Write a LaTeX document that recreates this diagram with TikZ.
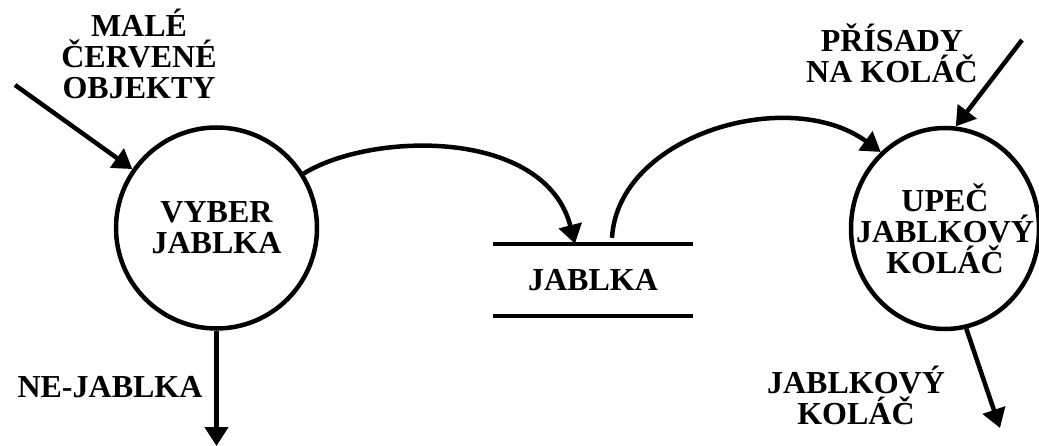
\documentclass[tikz,border=0pt]{standalone}
\usepackage{fontspec}
\setmainfont{Liberation Serif}
\usetikzlibrary{shapes.geometric, arrows.meta}
\tikzset{
	process/.style={ellipse, draw, line width=4.5pt, inner xsep=-40pt, inner ysep=0pt}, % bubbles for the processes
	flow/.style={line width=4.5pt, -{Triangle[length=19pt,width=23pt]}}, % the data flows
	every node/.style={font=\fontsize{32}{31}\selectfont\bfseries, align=center, inner sep=0pt},
}

\begin{document}
\begin{tikzpicture}[x=1pt, y=-1pt]
	\useasboundingbox (0,0) rectangle (1039,446);
	\node[process, minimum width=201pt, minimum height=201pt] (p1) at (216.5,228) {VYBER\\JABLKA};
	\node[process, minimum width=188pt, minimum height=201pt] (p2) at (945,228.5) {UPEČ\\JABLKOVÝ\\KOLÁČ};
	\node[minimum width=200pt, minimum height=72pt] (d1) at (593,280) {JABLKA};
	\draw[line width=4.5pt] (d1.north west) -- (d1.north east) (d1.south west) -- (d1.south east);
	% loose ends of the outer flows
	\coordinate (in1) at (15,85);
	\coordinate (in2) at (1022,40);
	\coordinate (out1) at (216.5,446);
	\coordinate (out2) at (1000,428);
	\node (l1) at (139,54) {MALÉ\\ČERVENÉ\\OBJEKTY};
	\node (l2) at (110,387.5) {NE-JABLKA};
	\node (l3) at (892,53) {PŘÍSADY\\NA KOLÁČ};
	\node (l4) at (856,395) {JABLKOVÝ\\KOLÁČ};
	\draw[flow] (in1) -- (p1.145);
	\draw[flow] (p1.south) -- (out1);
	\draw[flow] (p1.32) .. controls +(68,-42) and +(-30,-116) .. ([xshift=-18pt]d1.north);
	\draw[flow] ([xshift=19pt,yshift=6pt]d1.north) .. controls +(6,-103) and +(-92,-67) .. (p2.130);
	\draw[flow] (in2) -- (p2.84);
	\draw[flow] (p2.-78) -- (out2);
\end{tikzpicture}
\end{document}
